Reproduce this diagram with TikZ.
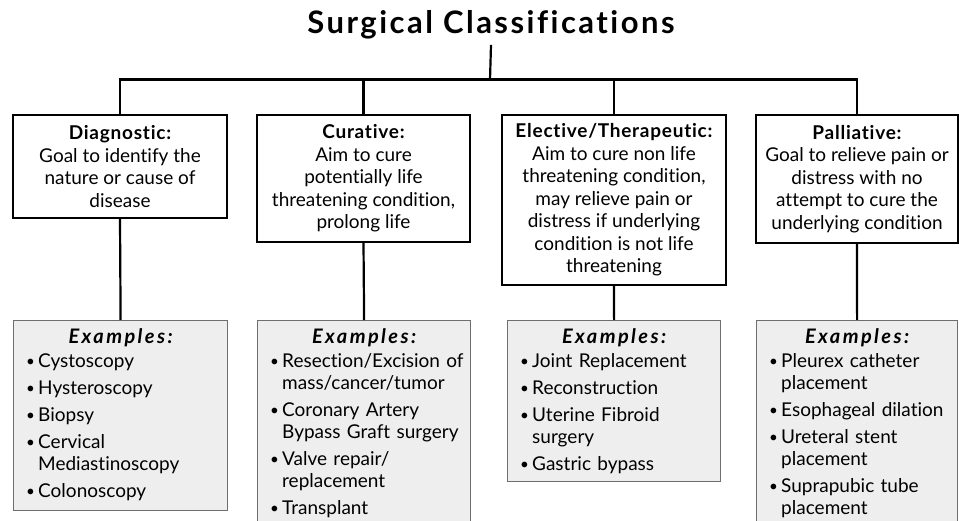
\documentclass[tikz,border=0pt]{standalone}
\usepackage{fontspec}
\setmainfont{Lato}[Ligatures=NoCommon]
\definecolor{exfill}{RGB}{238,238,238}
\definecolor{exline}{RGB}{110,110,110}
\newcommand\itm[1]{\par\vspace{5pt}\noindent\hangindent=12pt\hangafter=1\makebox[12pt][l]{\raisebox{0.5pt}{\scalebox{0.8}{\textbullet}}}#1\par}
\newcommand\hd[1]{{\bfseries\addfontfeature{LetterSpace=4}#1}}
\begin{document}
\begin{tikzpicture}[x=1pt,y=-1pt,
  cat/.style={draw=black, line width=1.6pt, fill=white, align=center, inner sep=0pt,
    font=\fontsize{19}{22.5}\selectfont},
  exbox/.style={draw=exline, line width=1.2pt, fill=exfill, inner sep=0pt, anchor=north west},
  exhead/.style={inner sep=0pt, anchor=north,
    font=\fontsize{20}{22}\selectfont\bfseries\itshape\addfontfeature{LetterSpace=12}},
  exlist/.style={inner sep=0pt, anchor=north west, text width=250pt, align=left,
    font=\fontsize{19}{22}\selectfont},
  link/.style={line width=2.2pt},
  bus/.style={line width=3pt}]
\useasboundingbox (0,0) rectangle (959,521);
\clip (0,0) rectangle (959,521);

\node[anchor=base, inner sep=5pt, font=\fontsize{31}{34}\selectfont\bfseries\addfontfeature{LetterSpace=8}] (title) at (491,34) {Surgical Classifications};

% category boxes
\node[cat, minimum width=214pt, minimum height=103pt] (d1) at (120,166.5)
  {\hd{Diagnostic:}\\Goal to identify the\\nature or cause of\\disease};
\node[cat, minimum width=213pt, minimum height=127pt] (d2) at (363.5,178.5)
  {\hd{Curative:}\\Aim to cure\\potentially life\\threatening condition,\\prolong life};
\node[cat, minimum width=224pt, minimum height=170pt] (d3) at (614,200)
  {\hd{Elective/Therapeutic:}\\Aim to cure non life\\threatening condition,\\may relieve pain or\\distress if underlying\\condition is not life\\threatening};
\node[cat, minimum width=202pt, minimum height=128pt] (d4) at (857,179)
  {\hd{Palliative:}\\Goal to relieve pain or\\distress with no\\attempt to cure the\\underlying condition};

% example boxes
\node[exbox, minimum width=214pt, minimum height=190pt] (e1) at (13,320) {};
\node[exbox, minimum width=213pt, minimum height=230pt] (e2) at (257,320) {};
\node[exbox, minimum width=213pt, minimum height=161pt] (e3) at (507,320) {};
\node[exbox, minimum width=201pt, minimum height=230pt] (e4) at (756,320) {};

\foreach \i in {1,2,3,4}{
  \node[exhead] (h\i) at ([yshift=-8pt]e\i.north) {Examples:};
}

\node[exlist] (l1) at ([xshift=13pt,yshift=-20pt]e1.north west)
  {\itm{Cystoscopy}\itm{Hysteroscopy}\itm{Biopsy}\itm{Cervical\newline Mediastinoscopy}\itm{Colonoscopy}};
\node[exlist] (l2) at ([xshift=13pt,yshift=-20pt]e2.north west)
  {\itm{Resection/Excision of\newline mass/cancer/tumor}\itm{Coronary Artery\newline Bypass Graft surgery}\itm{Valve repair/\newline replacement}\itm{Transplant}};
\node[exlist] (l3) at ([xshift=13pt,yshift=-20pt]e3.north west)
  {\itm{Joint Replacement}\itm{Reconstruction}\itm{Uterine Fibroid\newline surgery}\itm{Gastric bypass}};
\node[exlist] (l4) at ([xshift=13pt,yshift=-20pt]e4.north west)
  {\itm{Pleurex catheter\newline placement}\itm{Esophageal dilation}\itm{Ureteral stent\newline placement}\itm{Suprapubic tube\newline placement}};

% connectors
\coordinate (hub) at (490,80);
\coordinate (b1) at (d1.north |- hub);
\coordinate (b4) at (d4.north |- hub);
\draw[link] (title.south) -- (hub);
\draw[bus] ([xshift=-1.1pt]b1) -- ([xshift=1.1pt]b4);
\foreach \i in {1,2,3,4}{
  \draw[link] (d\i.north |- hub) -- (d\i.north);
  \draw[link] (d\i.south) -- (e\i.north);
}
\end{tikzpicture}
\end{document}
